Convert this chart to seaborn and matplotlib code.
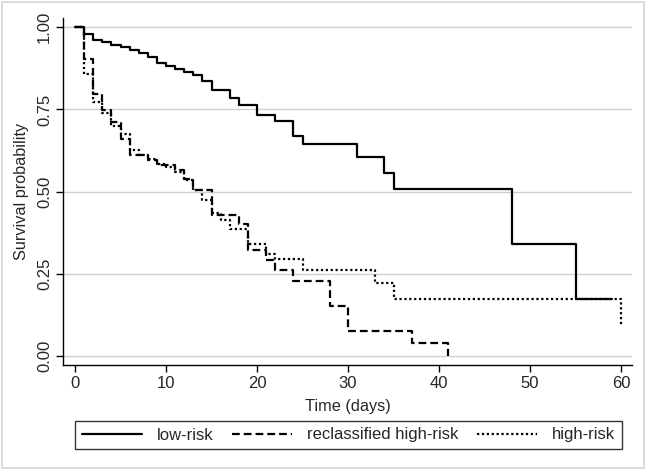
import pandas as pd
import matplotlib.pyplot as plt
import matplotlib.patches as patches
import seaborn as sns

# Kaplan-Meier step values (time in days, survival)
low_days = [0, 1, 2, 3, 4, 5, 6, 7, 8, 9, 10, 11, 12, 13, 14, 15, 17, 18, 20, 22,
            24, 25, 31, 34, 35, 48, 55, 59]
low_surv = [1.0, 0.978, 0.962, 0.955, 0.947, 0.940, 0.931, 0.922, 0.909, 0.891,
            0.881, 0.874, 0.863, 0.856, 0.835, 0.810, 0.786, 0.764, 0.733, 0.715,
            0.668, 0.644, 0.605, 0.557, 0.507, 0.341, 0.173, 0.173]

recl_days = [0, 1, 2, 3, 4, 5, 6, 8, 9, 11, 12, 13, 15, 18, 19, 21, 22, 24, 28,
             30, 37, 41]
recl_surv = [1.0, 0.904, 0.798, 0.747, 0.711, 0.661, 0.610, 0.595, 0.580, 0.565,
             0.540, 0.504, 0.430, 0.403, 0.324, 0.292, 0.261, 0.229, 0.152, 0.077,
             0.040, 0.0]

high_days = [0, 1, 2, 3, 4, 5, 6, 7, 8, 9, 10, 11, 12, 13, 14, 15, 16, 17, 19,
             21, 22, 25, 33, 35, 60]
high_surv = [1.0, 0.858, 0.772, 0.738, 0.700, 0.676, 0.626, 0.612, 0.600, 0.585,
             0.575, 0.560, 0.535, 0.504, 0.474, 0.435, 0.415, 0.388, 0.342, 0.310,
             0.294, 0.263, 0.221, 0.173, 0.094]

groups = ['low-risk', 'reclassified high-risk', 'high-risk']

df = pd.concat([
    pd.DataFrame({'day': low_days, 'surv': low_surv, 'group': groups[0]}),
    pd.DataFrame({'day': recl_days, 'surv': recl_surv, 'group': groups[1]}),
    pd.DataFrame({'day': high_days, 'surv': high_surv, 'group': groups[2]}),
], ignore_index=True)

sns.set_style('white')
plt.rcParams['font.family'] = ['Liberation Sans', 'DejaVu Sans']

fig = plt.figure(figsize=(6.49, 4.72), dpi=100)
ax = fig.add_axes([63 / 649, 1 - 365 / 472, 569 / 649, 347 / 472])

# light grey outer frame like the Stata graph region
fig.add_artist(patches.Rectangle((2 / 649, 4 / 472), 642 / 649, 466 / 472,
                                 transform=fig.transFigure, fill=False,
                                 edgecolor='#d4d4d4', linewidth=1.2))

for yv in [0, 0.25, 0.5, 0.75, 1.0]:
    ax.axhline(yv, color='#d0d0d0', linewidth=1.0, zorder=0)

sns.lineplot(data=df, x='day', y='surv', hue='group', style='group',
             palette={g: 'black' for g in groups},
             dashes={groups[0]: '', groups[1]: (3.5, 1.8), groups[2]: (1.0, 1.2)},
             drawstyle='steps-post', estimator=None, sort=False,
             linewidth=1.6, ax=ax)

ax.set_xlim(-1.32, 61.2)
ax.set_ylim(-0.027, 1.028)
ax.set_xticks([0, 10, 20, 30, 40, 50, 60])
ax.set_yticks([0, 0.25, 0.5, 0.75, 1.0])
ax.set_yticklabels(['0.00', '0.25', '0.50', '0.75', '1.00'], rotation=90, va='center')
ax.tick_params(axis='both', direction='out', length=5, width=1, color='black',
               labelsize=12, pad=3, bottom=True, left=True)

for side in ['top', 'right']:
    ax.spines[side].set_visible(False)
for side in ['left', 'bottom']:
    ax.spines[side].set_color('black')
    ax.spines[side].set_linewidth(1.0)

ax.set_xlabel('Time (days)', fontsize=11.7, labelpad=6)
ax.set_ylabel('Survival probability', fontsize=11.7, labelpad=6)

handles, labels = ax.get_legend_handles_labels()
ax.legend_.remove()
leg = fig.legend(handles, labels, ncol=3, loc='center', mode='expand',
                 bbox_to_anchor=(75 / 649, 1 - 450 / 472, 547 / 649, 30 / 472),
                 bbox_transform=fig.transFigure, borderaxespad=0,
                 fontsize=12, handlelength=3.6, handletextpad=0.9,
                 frameon=True, fancybox=False, edgecolor='black')
leg.get_frame().set_linewidth(1.0)

plt.savefig('out.png', dpi=100)
